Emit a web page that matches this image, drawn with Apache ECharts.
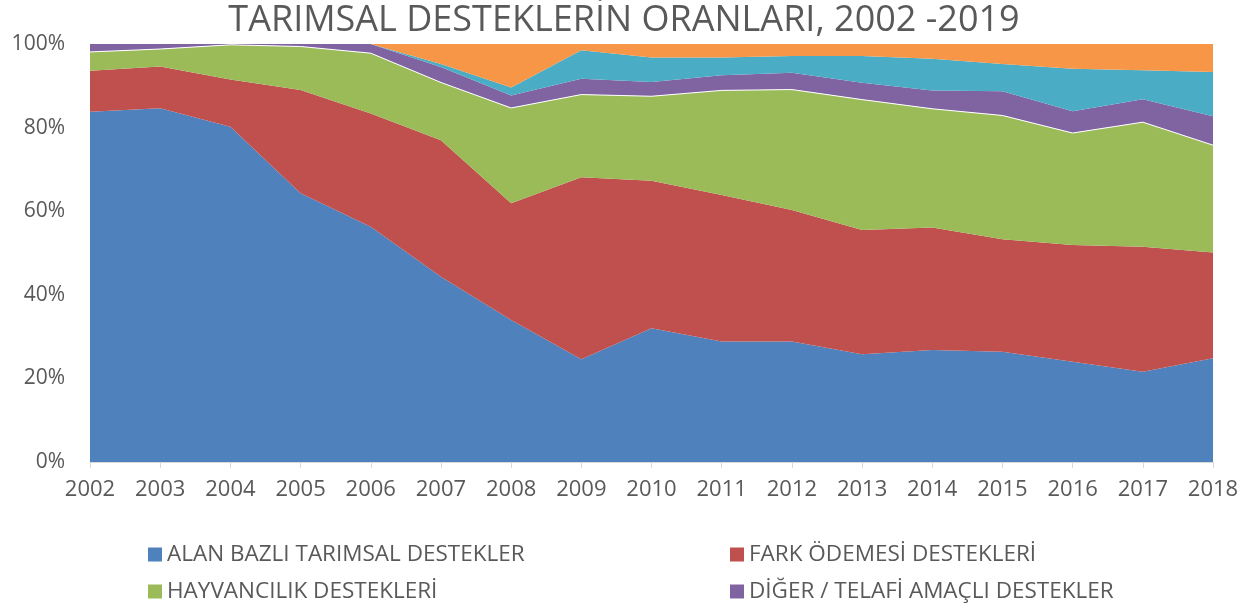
<!DOCTYPE html>
<html>
<head>
<meta charset="utf-8">
<script src="https://cdn.jsdelivr.net/npm/echarts@6/dist/echarts.min.js"></script>
<style>
  html, body { margin: 0; padding: 0; background: #fff; }
  #chart { width: 1248px; height: 608px; }
</style>
</head>
<body>
<div id="chart"></div>
<script>
const years = ['2002', '2003', '2004', '2005', '2006', '2007', '2008', '2009', '2010',
  '2011', '2012', '2013', '2014', '2015', '2016', '2017', '2018']

// yüzde paylar (alttan üste yığılı)
const alanBazli = [83.8, 84.6, 80.2, 64.3, 56.3, 44.3, 34.0, 24.6, 32.0, 28.8, 28.8, 25.8, 26.8, 26.4, 24.0, 21.6, 24.8]
const farkOdemesi = [9.8, 10.0, 11.3, 24.7, 27.1, 32.7, 27.9, 43.5, 35.3, 35.1, 31.5, 29.7, 29.3, 26.9, 27.9, 29.9, 25.3]
const hayvancilik = [4.5, 4.2, 8.3, 10.4, 14.4, 13.8, 22.8, 19.8, 20.2, 25.0, 28.8, 31.2, 28.4, 29.6, 26.8, 29.8, 25.7]
const diger = [1.9, 1.2, 0.2, 0.6, 2.2, 3.7, 3.0, 3.8, 3.4, 3.6, 4.0, 4.0, 4.4, 5.8, 5.2, 5.5, 6.9]
const seri5 = [0, 0, 0, 0, 0, 0.7, 1.9, 6.8, 5.9, 4.3, 4.0, 6.4, 7.6, 6.5, 10.2, 6.9, 10.6]
const seri6 = [0, 0, 0, 0, 0, 4.8, 10.4, 1.5, 3.2, 3.2, 2.9, 2.9, 3.5, 4.8, 5.9, 6.3, 6.7]

const yTicks = [0, 20, 40, 60, 80, 100]

const textColor = '#595959'
const font = 'Open Sans'

const chart = echarts.init(document.getElementById('chart'))

const makeSeries = (name, data, color, line) => ({
  name,
  type: 'line',
  stack: 'total',
  data,
  symbol: 'none',
  smooth: false,
  lineStyle: line || { width: 0 },
  itemStyle: { color },
  areaStyle: { color, opacity: 1 },
  emphasis: { disabled: true }
})

const legendStyle = { fontFamily: font, fontSize: 22.5, color: textColor }

const option = {
  animation: false,
  textStyle: { fontFamily: font },
  title: {
    text: 'TARIMSAL DESTEKLERİN ORANLARI, 2002 -2019',
    left: 'center',
    top: -2,
    textStyle: {
      fontFamily: font,
      fontSize: 36,
      fontWeight: 'normal',
      color: textColor
    }
  },
  legend: [
    {
      data: ['ALAN BAZLI TARIMSAL DESTEKLER', 'HAYVANCILIK DESTEKLERİ'],
      orient: 'vertical',
      left: 143,
      top: 538,
      itemGap: 14,
      itemWidth: 14,
      itemHeight: 14,
      icon: 'rect',
      textStyle: legendStyle
    },
    {
      data: ['FARK ÖDEMESİ DESTEKLERİ', 'DİĞER / TELAFİ AMAÇLI DESTEKLER'],
      orient: 'vertical',
      left: 725,
      top: 538,
      itemGap: 14,
      itemWidth: 14,
      itemHeight: 14,
      icon: 'rect',
      textStyle: legendStyle
    }
  ],
  grid: {
    left: 90,
    right: 35,
    top: 44,
    bottom: 146
  },
  xAxis: {
    type: 'category',
    data: years,
    boundaryGap: false,
    axisLine: { lineStyle: { color: '#d9d9d9', width: 1 } },
    axisTick: { show: true, length: 6, lineStyle: { color: '#d9d9d9' } },
    axisLabel: { color: textColor, fontSize: 22, margin: 17, fontFamily: font },
    splitLine: { show: false }
  },
  yAxis: {
    type: 'value',
    min: yTicks[0],
    max: yTicks[yTicks.length - 1],
    interval: 20,
    axisLine: { show: false },
    axisTick: { show: false },
    splitLine: { show: false },
    axisLabel: {
      formatter: '{value}%',
      color: textColor,
      fontSize: 21,
      margin: 25,
      fontFamily: font
    }
  },
  series: [
    makeSeries('ALAN BAZLI TARIMSAL DESTEKLER', alanBazli, '#4F81BD'),
    makeSeries('FARK ÖDEMESİ DESTEKLERİ', farkOdemesi, '#C0504D'),
    makeSeries('HAYVANCILIK DESTEKLERİ', hayvancilik, '#9BBB59', { width: 1, color: '#ffffff' }),
    makeSeries('DİĞER / TELAFİ AMAÇLI DESTEKLER', diger, '#8064A2'),
    makeSeries('SERİ 5', seri5, '#4BACC6'),
    makeSeries('SERİ 6', seri6, '#F79646')
  ]
}

chart.setOption(option)
</script>
</body>
</html>
